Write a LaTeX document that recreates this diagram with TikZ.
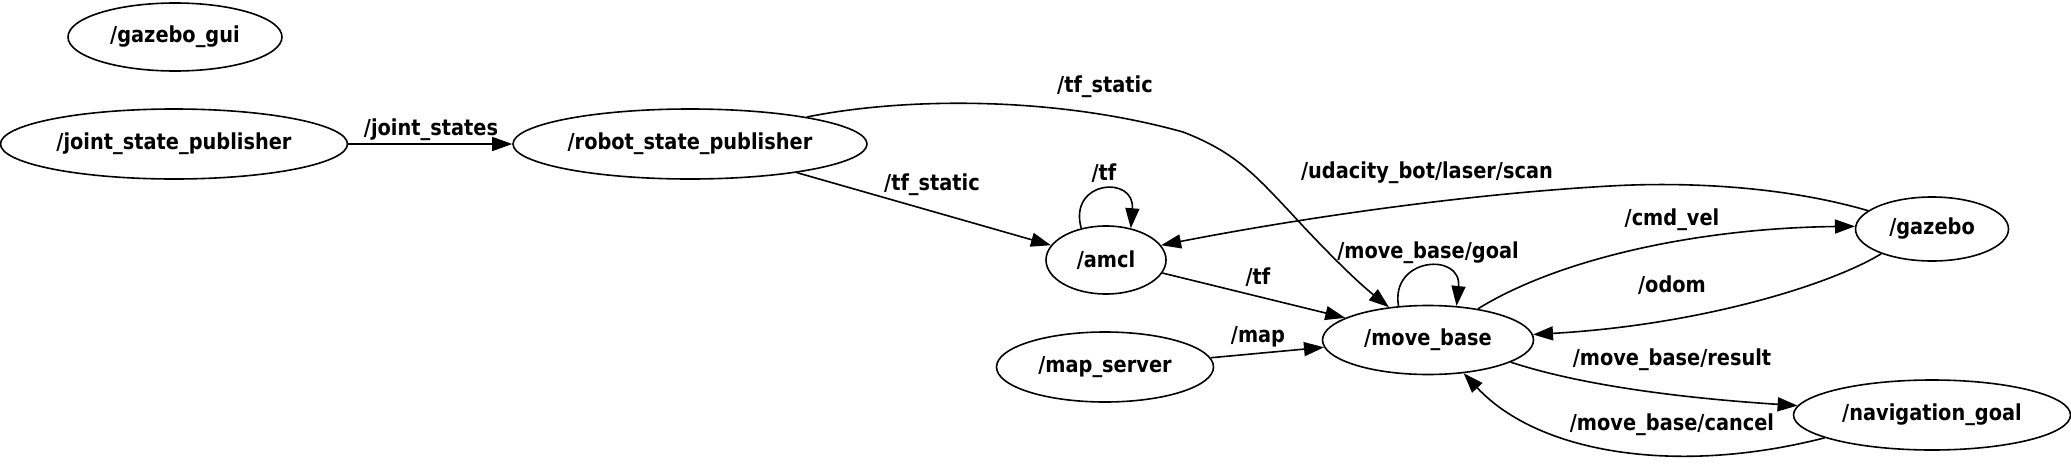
\documentclass[tikz,border=0pt]{standalone}
\usepackage{fontspec}
\setmainfont{DejaVu Sans}[FakeStretch=0.88]
\usetikzlibrary{shapes.geometric,arrows.meta}
\begin{document}
\begin{tikzpicture}[x=1pt,y=-1pt,
  every node/.style={font=\fontsize{22}{26}\selectfont\bfseries},
  rosnode/.style={draw,ellipse,line width=1.6pt,inner sep=0pt},
  lbl/.style={inner sep=0pt},
  edge/.style={line width=1.6pt,-{Triangle[length=20pt,width=14pt]}}]
\useasboundingbox (0,0) rectangle (2071,469);
% nodes
\node[rosnode,minimum width=214pt,minimum height=68pt] (gg) at (175,37) {/gazebo\_gui};
\node[rosnode,minimum width=347pt,minimum height=70pt] (jsp) at (174,144) {/joint\_state\_publisher};
\node[rosnode,minimum width=354pt,minimum height=70pt] (rsp) at (690,144) {/robot\_state\_publisher};
\node[rosnode,minimum width=120pt,minimum height=68pt] (amcl) at (1106,260) {/amcl};
\node[rosnode,minimum width=211pt,minimum height=69pt] (mb) at (1428,340) {/move\_base};
\node[rosnode,minimum width=217pt,minimum height=70pt] (ms) at (1105,367) {/map\_server};
\node[rosnode,minimum width=153pt,minimum height=64pt] (gz) at (1932,229) {/gazebo};
\node[rosnode,minimum width=277pt,minimum height=70pt] (ng) at (1932,415) {/navigation\_goal};
% edges
\draw[edge] (jsp.east) -- (rsp.west);
\node[lbl] (l1) at (431,130) {/joint\_states};
\draw[edge] (rsp.-15) -- (amcl.165);
\node[lbl] (l2) at (932,185) {/tf\_static};
\draw[edge] (rsp.13) .. controls (900,98) and (1050,95) .. (1183,132)
  .. controls (1235,152) and (1255,175) .. (1290,212)
  .. controls (1320,245) and (1355,280) .. (mb.140);
\node[lbl] (l3) at (1105,87) {/tf\_static};
\draw[edge] (amcl.128) .. controls (1068,180) and (1135,175) .. (amcl.52);
\node[lbl] (l4) at (1104,173) {/tf};
\draw[edge] (amcl.-13) -- (mb.165);
\node[lbl] (l5) at (1258,277) {/tf};
\draw[edge] (mb.131) .. controls (1390,257) and (1462,252) .. (mb.50);
\node[lbl] (l6) at (1428,253) {/move\_base/goal};
\draw[edge] (ms.5) -- (mb.184);
\node[lbl] (l7) at (1258,337) {/map};
\draw[edge] (gz.164) .. controls (1780,185) and (1680,182) .. (1610,186)
  .. controls (1450,195) and (1280,222) .. (amcl.15);
\node[lbl] (l8) at (1427,173) {/udacity\_bot/laser/scan};
\draw[edge] (mb.32) .. controls (1560,258) and (1700,228) .. (gz.178);
\node[lbl] (l9) at (1672,220) {/cmd\_vel};
\draw[edge] (gz.206) .. controls (1830,285) and (1700,325) .. (mb.3);
\node[lbl] (l10) at (1672,285) {/odom};
\draw[edge] (mb.-15) .. controls (1580,385) and (1680,398) .. (ng.176);
\node[lbl] (l11) at (1672,360) {/move\_base/result};
\draw[edge] (ng.192) .. controls (1680,475) and (1540,455) .. (mb.-43);
\node[lbl] (l12) at (1672,425) {/move\_base/cancel};
\end{tikzpicture}
\end{document}
